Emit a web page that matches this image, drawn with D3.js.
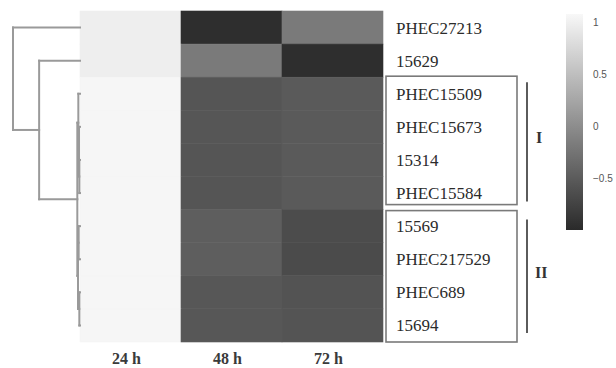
<!DOCTYPE html>
<html>
<head>
<meta charset="utf-8">
<script src="https://cdn.jsdelivr.net/npm/d3@7"></script>
<style>
  html, body { margin: 0; padding: 0; background: #fff; }
  svg { display: block; }
</style>
</head>
<body>
<svg id="chart" width="616" height="368"></svg>
<script>
// Time points (columns) and genes (rows, in dendrogram order)
const timePoints = ["24 h", "48 h", "72 h"];
const genes = ["PHEC27213", "15629", "PHEC15509", "PHEC15673", "15314",
               "PHEC15584", "15569", "PHEC217529", "PHEC689", "15694"];

// Scaled expression per gene, one value per time point
const v24 = [0.98, 0.98, 1.06, 1.06, 1.06, 1.06, 1.06, 1.06, 1.06, 1.06];
const v48 = [-0.96, -0.19, -0.57, -0.56, -0.57, -0.57, -0.48, -0.47, -0.55, -0.55];
const v72 = [-0.19, -0.96, -0.52, -0.52, -0.52, -0.52, -0.66, -0.67, -0.59, -0.58];

// Colour bar ticks
const legendTicks = [1, 0.5, 0, -0.5];
const legendTickLabels = ["1", "0.5", "0", "\u22120.5"];

// Row clusters and their labels
const clusterNames = ["I", "II"];
const clusterMembers = [
  ["PHEC15509", "PHEC15673", "15314", "PHEC15584"],
  ["15569", "PHEC217529", "PHEC689", "15694"]
];

// Row dendrogram: merge heights (relative)
const tree = {h: 1.0, children: [
  {name: "PHEC27213"},
  {h: 0.61, children: [
    {name: "15629"},
    {h: 0.04, children: [
      {h: 0.025, children: [
        {name: "PHEC15509"},
        {h: 0.015, children: [
          {name: "PHEC15673"},
          {h: 0.01, children: [{name: "15314"}, {name: "PHEC15584"}]}
        ]}
      ]},
      {h: 0.03, children: [
        {h: 0.02, children: [{name: "15569"}, {name: "PHEC217529"}]},
        {h: 0.01, children: [{name: "PHEC689"}, {name: "15694"}]}
      ]}
    ]}
  ]}
]};

const values = [v24, v48, v72];
const cells = [];
genes.forEach((g, i) => timePoints.forEach((t, j) => cells.push({gene: g, time: t, v: values[j][i]})));

const svg = d3.select("#chart");

const x = d3.scaleBand().domain(timePoints).range([80, 383]);
const y = d3.scaleBand().domain(genes).range([11, 342]);

const lo = d3.rgb(42, 42, 42), hi = d3.rgb(248, 248, 248);
const color = d3.scaleLinear().domain([-1, 1.08]).range([lo, hi]).clamp(true);

// Heatmap cells (faint separators only show on the darker cells)
svg.append("g").selectAll("rect").data(cells).join("rect")
  .attr("x", d => x(d.time))
  .attr("y", d => y(d.gene))
  .attr("width", x.bandwidth())
  .attr("height", y.bandwidth())
  .attr("fill", d => color(d.v))
  .attr("stroke", d => d.v > 0.5 ? color(d.v) : d3.color(color(d.v)).brighter(0.1))
  .attr("stroke-width", 0.6);

// Column labels
svg.append("g").selectAll("text").data(timePoints).join("text")
  .attr("x", d => x(d) + x.bandwidth() / 2 - 4)
  .attr("y", 364)
  .attr("text-anchor", "middle")
  .attr("font-family", "'Liberation Serif', 'DejaVu Serif', serif")
  .attr("font-weight", "bold")
  .attr("font-size", 16)
  .attr("fill", "#3a3a3a")
  .text(d => d);

// Row labels
svg.append("g").selectAll("text").data(genes).join("text")
  .attr("x", 396)
  .attr("y", d => y(d) + y.bandwidth() / 2)
  .attr("dy", "0.35em")
  .attr("font-family", "'Liberation Serif', 'DejaVu Serif', serif")
  .attr("font-size", 17)
  .attr("fill", "#2b2b2b")
  .text(d => d);

// Row dendrogram
const root = d3.hierarchy(tree);
const hx = d3.scaleLinear().domain([0, 1]).range([80, 13]);
root.eachAfter(n => {
  n.h = n.children ? n.data.h : 0;
  n.cy = n.children ? (n.children[0].cy + n.children[n.children.length - 1].cy) / 2
                    : y(n.data.name) + y.bandwidth() / 2;
});
const segs = [];
root.each(n => {
  if (!n.children) return;
  const ys = n.children.map(c => c.cy);
  segs.push([hx(n.h), d3.min(ys), hx(n.h), d3.max(ys)]);
  n.children.forEach(c => segs.push([hx(n.h), c.cy, hx(c.h), c.cy]));
});
svg.append("g").selectAll("line").data(segs).join("line")
  .attr("x1", d => d[0]).attr("y1", d => d[1])
  .attr("x2", d => d[2]).attr("y2", d => d[3])
  .attr("stroke", "#9a9a9a")
  .attr("stroke-width", 2)
  .attr("stroke-linecap", "square");

// Cluster boxes and brackets
const insets = [[-1, -5], [1, 0]];
clusterMembers.forEach((m, k) => {
  const top = y(m[0]) + insets[k][0];
  const bot = y(m[m.length - 1]) + y.bandwidth() + insets[k][1];
  svg.append("rect")
    .attr("x", 386).attr("y", top)
    .attr("width", 131).attr("height", bot - top)
    .attr("fill", "none")
    .attr("stroke", "#7a7a7a")
    .attr("stroke-width", 1.6);
  svg.append("line")
    .attr("x1", 527).attr("x2", 527)
    .attr("y1", top + (k === 0 ? 6 : 9)).attr("y2", bot - (k === 0 ? 3 : 9))
    .attr("stroke", "#333").attr("stroke-width", 1.6);
  svg.append("text")
    .attr("x", k === 0 ? 536 : 535)
    .attr("y", (top + bot) / 2 + (k === 0 ? -3 : -4))
    .attr("dy", "0.35em")
    .attr("font-family", "'Liberation Serif', 'DejaVu Serif', serif")
    .attr("font-weight", "bold")
    .attr("font-size", 16)
    .attr("fill", "#333")
    .text(clusterNames[k]);
});

// Colour bar
const ly = d3.scaleLinear().domain([-1, 1.08]).range([230, 14]);
const defs = svg.append("defs");
const grad = defs.append("linearGradient").attr("id", "cbar")
  .attr("x1", 0).attr("y1", 1).attr("x2", 0).attr("y2", 0);
d3.range(0, 1.0001, 0.1).forEach(t => {
  grad.append("stop").attr("offset", t)
    .attr("stop-color", color(-1 + t * 2.08));
});
svg.append("rect")
  .attr("x", 566).attr("y", ly(1.08))
  .attr("width", 17).attr("height", ly(-1) - ly(1.08))
  .attr("fill", "url(#cbar)");
svg.append("g").selectAll("text").data(legendTicks).join("text")
  .attr("x", 593)
  .attr("y", d => ly(d))
  .attr("dy", "0.35em")
  .attr("font-family", "'Liberation Sans', Arial, sans-serif")
  .attr("font-size", 10)
  .attr("fill", "#555")
  .text((d, i) => legendTickLabels[i]);
</script>
</body>
</html>
